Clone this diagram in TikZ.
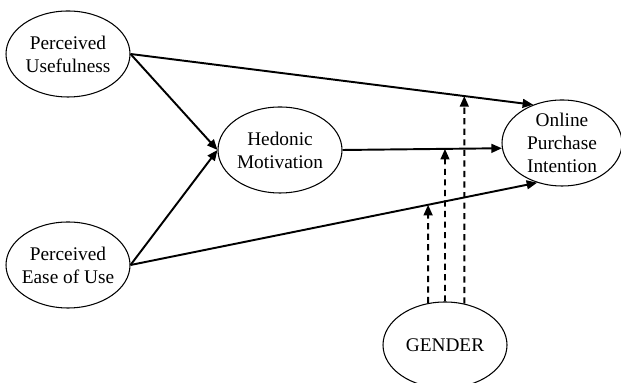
\documentclass[tikz,border=0pt]{standalone}
\usepackage{fontspec}
\setmainfont{Liberation Serif}
\usepackage{tikz}
\usetikzlibrary{arrows.meta,positioning,calc,shapes.geometric}

\begin{document}
\begin{tikzpicture}[
          lv/.style={ellipse,draw,line width=0.6pt,inner sep=-2pt,
                     minimum width=2.48cm,minimum height=1.72cm,align=center,
                     font=\fontsize{11}{13}\selectfont},
          ar/.style={-{Triangle[length=6pt,width=5pt]},line width=1.1pt},
          md/.style={ar,dash pattern=on 3.5pt off 2.5pt}
        ]
          \useasboundingbox (0,0) rectangle (12.42,7.66);

          \node(pu)[lv] at (1.36,6.58){Perceived\\Usefulness};
          \node(peu)[lv] at (1.36,2.36){Perceived\\Ease of Use};
          \node(hm)[lv] at (5.60,4.66){Hedonic\\Motivation};
          \node(opi)[lv,minimum width=2.4cm] at (11.24,4.80){Online\\Purchase\\Intention};
          \node(gen)[lv] at (8.90,0.76){GENDER};

          \draw[ar] (pu.east) -- (hm.west);
          \draw[ar] (peu.east) -- (hm.west);
          \draw[ar] (pu.east) -- (opi.127);
          \draw[ar] (hm.east) -- (opi.185);
          \draw[ar] (peu.east) -- (opi.238);

          % moderating effects of gender
          \path (gen.112) ++(0,5) coordinate (t1);
          \path (gen.90) ++(0,5) coordinate (t2);
          \path (gen.65) ++(0,5) coordinate (t3);
          \draw[md] (gen.112) -- (intersection of gen.112--t1 and peu.east--opi.238);
          \draw[md] (gen.90) -- (intersection of gen.90--t2 and hm.east--opi.185);
          \draw[md] (gen.65) -- (intersection of gen.65--t3 and pu.east--opi.127);
        \end{tikzpicture}
\end{document}
